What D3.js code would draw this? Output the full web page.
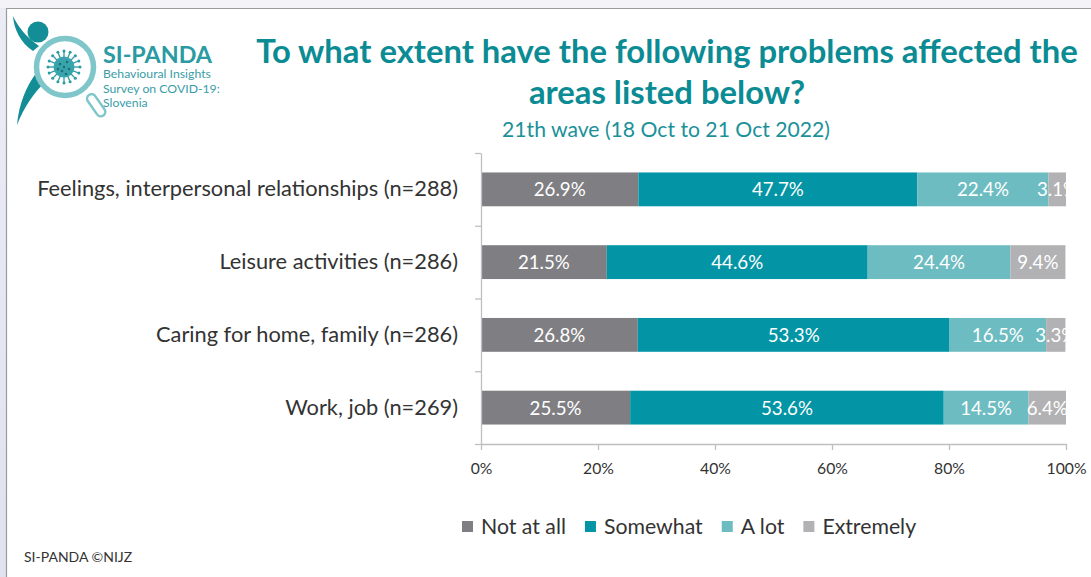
<!DOCTYPE html>
<html>
<head>
<meta charset="utf-8">
<script src="https://cdn.jsdelivr.net/npm/d3@7/dist/d3.min.js"></script>
<style>
  html, body { margin: 0; padding: 0; background: #ffffff; }
  svg { display: block; }
</style>
</head>
<body>
<svg id="chart" width="1091" height="577"></svg>
<script>
// Survey categories and answer shares (%)
const categories = [
  "Feelings, interpersonal relationships (n=288)",
  "Leisure activities (n=286)",
  "Caring for home, family (n=286)",
  "Work, job (n=269)"
];
const seriesNames = ["Not at all", "Somewhat", "A lot", "Extremely"];
const notAtAll  = [26.9, 21.5, 26.8, 25.5];
const somewhat  = [47.7, 44.6, 53.3, 53.6];
const aLot      = [22.4, 24.4, 16.5, 14.5];
const extremely = [3.1, 9.4, 3.3, 6.4];
const xTicks = [0, 20, 40, 60, 80, 100];

const titleLines = ["To what extent have the following problems affected the", "areas listed below?"];
const subtitle = "21th wave (18 Oct to 21 Oct 2022)";
const footer = "SI-PANDA \u00A9NIJZ";

const colors = ["#7f7f83", "#0395a5", "#6dbcc1", "#b2b2b4"];
const teal = "#0b8b94";
const textDark = "#333333";
const FONT = "Lato, 'Open Sans', sans-serif";

const table = categories.map((c, i) => ({
  category: c,
  "Not at all": notAtAll[i],
  "Somewhat": somewhat[i],
  "A lot": aLot[i],
  "Extremely": extremely[i]
}));

const svg = d3.select("#chart");
const W = 1091, H = 577;

// page frame
svg.append("rect").attr("width", W).attr("height", H).attr("fill", "#f3f3f8");
const defs = svg.append("defs");
const grad = defs.append("linearGradient").attr("id", "side")
  .attr("x1", 0).attr("y1", 0).attr("x2", 0).attr("y2", 1);
grad.append("stop").attr("offset", 0).attr("stop-color", "#ececf5");
grad.append("stop").attr("offset", 1).attr("stop-color", "#dfe2ef");
svg.append("rect").attr("x", 0).attr("y", 8).attr("width", 6).attr("height", H - 8).attr("fill", "url(#side)");
svg.append("rect").attr("x", 6).attr("y", 8).attr("width", W - 6).attr("height", H - 8).attr("fill", "#ffffff");
svg.append("path").attr("d", `M6.5,${H} V8.5 H${W}`).attr("fill", "none").attr("stroke", "#9a9a9e").attr("stroke-width", 1.2);

// fit helper: scales font size so the text spans a given width
function fitWidth(sel, target) {
  const node = sel.node();
  const fs = parseFloat(sel.attr("font-size"));
  const w = node.getComputedTextLength();
  const nfs = fs * target / w;
  sel.attr("font-size", nfs.toFixed(2));
  return nfs;
}

// ---- logo ----
const logo = svg.append("g");
const logoDark = "#138d96", logoLight = "#7fc6ca";
// arm
logo.append("path")
  .attr("d", "M13,16 C14,30 21,43 33,51 L39,46 C28,38 19,29 13,16 Z")
  .attr("fill", logoDark);
// head
logo.append("circle").attr("cx", 38).attr("cy", 32).attr("r", 10.5).attr("fill", logoDark);
// leg
logo.append("path")
  .attr("d", "M37,72 C26,86 19,104 17,125 C24,107 34,93 44,83 Z")
  .attr("fill", logoDark);
// lens ring
logo.append("circle").attr("cx", 65).attr("cy", 67).attr("r", 28.5)
  .attr("fill", "#ffffff").attr("stroke", logoLight).attr("stroke-width", 5.5);
// handle
logo.append("rect").attr("x", -4.5).attr("y", 0).attr("width", 9).attr("height", 25).attr("rx", 4.5)
  .attr("transform", "translate(89,95) rotate(-35)")
  .attr("fill", "#ffffff").attr("stroke", logoLight).attr("stroke-width", 2.5);
// virus
const vx = 64, vy = 67;
d3.range(16).forEach(k => {
  const a = k / 16 * 2 * Math.PI;
  logo.append("line")
    .attr("x1", vx + Math.cos(a) * 10).attr("y1", vy + Math.sin(a) * 10)
    .attr("x2", vx + Math.cos(a) * 15).attr("y2", vy + Math.sin(a) * 15)
    .attr("stroke", "#2a9aa3").attr("stroke-width", 1.3);
  logo.append("circle").attr("cx", vx + Math.cos(a) * 16).attr("cy", vy + Math.sin(a) * 16)
    .attr("r", 1.5).attr("fill", "#2a9aa3");
});
logo.append("circle").attr("cx", vx).attr("cy", vy).attr("r", 10.5).attr("fill", "#3aa4ac");
[[-4, -3], [3, -5], [5, 2], [-2, 4], [0, 0], [-6, 2], [2, 7]].forEach(p => {
  logo.append("circle").attr("cx", vx + p[0]).attr("cy", vy + p[1]).attr("r", 1.3).attr("fill", "#17727a");
});
// logo text
const lt1 = logo.append("text").attr("x", 103).attr("y", 63).attr("font-family", FONT)
  .attr("font-weight", 700).attr("font-size", 22).attr("fill", "#2a9aa3").text("SI-PANDA");
fitWidth(lt1, 109);
const logoSub = ["Behavioural Insights", "Survey on COVID-19:", "Slovenia"];
const subs = logo.selectAll("text.sub").data(logoSub).join("text").attr("class", "sub")
  .attr("x", 103).attr("y", (d, i) => 78 + i * 14.5)
  .attr("font-family", FONT).attr("font-size", 12).attr("fill", "#3a9da6").text(d => d);
const sfs = fitWidth(subs.filter((d, i) => i === 0), 108);
subs.attr("font-size", sfs);

// ---- titles ----
const t1 = svg.append("text").attr("x", 667).attr("y", 63).attr("text-anchor", "middle")
  .attr("font-family", FONT).attr("font-weight", 700).attr("font-size", 28).attr("fill", teal).text(titleLines[0]);
const tfs = fitWidth(t1, 822);
svg.append("text").attr("x", 667).attr("y", 104).attr("text-anchor", "middle")
  .attr("font-family", FONT).attr("font-weight", 700).attr("font-size", tfs).attr("fill", teal).text(titleLines[1]);
const st = svg.append("text").attr("x", 666).attr("y", 137).attr("text-anchor", "middle")
  .attr("font-family", FONT).attr("font-size", 18).attr("fill", "#1a9199").text(subtitle);
fitWidth(st, 328);

// ---- chart ----
const plotL = 481, plotR = 1066, plotT = 153, plotB = 444;
const x = d3.scaleLinear().domain([0, 100]).range([plotL, plotR]);
const y = d3.scaleBand().domain(categories).range([plotT, plotB]).paddingInner(0.535).paddingOuter(0.2675);
const yEdge = d3.scaleLinear().domain([0, categories.length]).range([plotT, plotB]);

const stacked = d3.stack().keys(seriesNames)(table);

defs.append("clipPath").attr("id", "plotClip")
  .append("rect").attr("x", plotL).attr("y", plotT - 5).attr("width", plotR - plotL).attr("height", plotB - plotT + 10);

const plot = svg.append("g").attr("clip-path", "url(#plotClip)");
const layers = plot.selectAll("g.layer").data(stacked).join("g").attr("class", "layer")
  .attr("fill", (d, i) => colors[i]);
layers.selectAll("rect").data(d => d).join("rect")
  .attr("x", d => x(d[0]))
  .attr("y", d => y(d.data.category))
  .attr("width", d => x(d[1]) - x(d[0]))
  .attr("height", y.bandwidth());
const valLabels = layers.selectAll("text").data(d => d.map(v => ({ v, key: d.key })))
  .join("text")
  .attr("x", d => (x(d.v[0]) + x(d.v[1])) / 2)
  .attr("y", d => y(d.v.data.category) + y.bandwidth() / 2)
  .attr("dy", "0.37em")
  .attr("text-anchor", "middle")
  .attr("font-family", FONT).attr("font-size", 16).attr("fill", "#ffffff")
  .text(d => d.v.data[d.key].toFixed(1) + "%");
const vfs = fitWidth(valLabels.filter(d => d.key === "Somewhat").filter((d, i) => i === 0), 52);
valLabels.attr("font-size", vfs);

// y axis line with ticks at band edges
const axisColor = "#bfbfbf";
const yAxisG = svg.append("g").attr("transform", `translate(${plotL},0)`)
  .call(d3.axisLeft(yEdge).tickValues(d3.range(categories.length + 1)).tickFormat("").tickSize(6).tickSizeOuter(0));
yAxisG.selectAll("path, line").attr("stroke", axisColor).attr("stroke-width", 1.3);

// category labels
const yLab = svg.append("g").attr("transform", `translate(${plotL},0)`)
  .call(d3.axisLeft(y).tickSize(0).tickPadding(23));
yLab.select(".domain").remove();
yLab.selectAll("text").attr("font-family", FONT).attr("font-size", 18).attr("fill", textDark);
const cfs = fitWidth(yLab.select(".tick text"), 421);
yLab.selectAll("text").attr("font-size", cfs);

// x axis
const xAxisG = svg.append("g").attr("transform", `translate(0,${plotB})`)
  .call(d3.axisBottom(x).tickValues(xTicks).tickFormat(d => d + "%").tickSize(6).tickSizeOuter(0).tickPadding(13));
xAxisG.selectAll("path, line").attr("stroke", axisColor).attr("stroke-width", 1.3);
xAxisG.selectAll("text").attr("font-family", FONT).attr("font-size", 15.5).attr("fill", textDark);
const xfs = fitWidth(xAxisG.selectAll("text").filter(d => d === 100), 40);
xAxisG.selectAll("text").attr("font-size", xfs);

// ---- legend ----
const legend = svg.append("g");
const probe = legend.append("text").attr("font-family", FONT).attr("font-size", 19).text(seriesNames[0]);
const lfs = fitWidth(probe, 85);
probe.remove();
let lx = 462;
seriesNames.forEach((name, i) => {
  legend.append("rect").attr("x", lx).attr("y", 521).attr("width", 11).attr("height", 11).attr("fill", colors[i]);
  const t = legend.append("text").attr("x", lx + 19).attr("y", 534)
    .attr("font-family", FONT).attr("font-size", lfs).attr("fill", textDark).text(name);
  lx += 19 + t.node().getComputedTextLength() + 19;
});

// footer
svg.append("text").attr("x", 24).attr("y", 562).attr("font-family", FONT)
  .attr("font-size", 14).attr("fill", "#333333").text(footer);
</script>
</body>
</html>
